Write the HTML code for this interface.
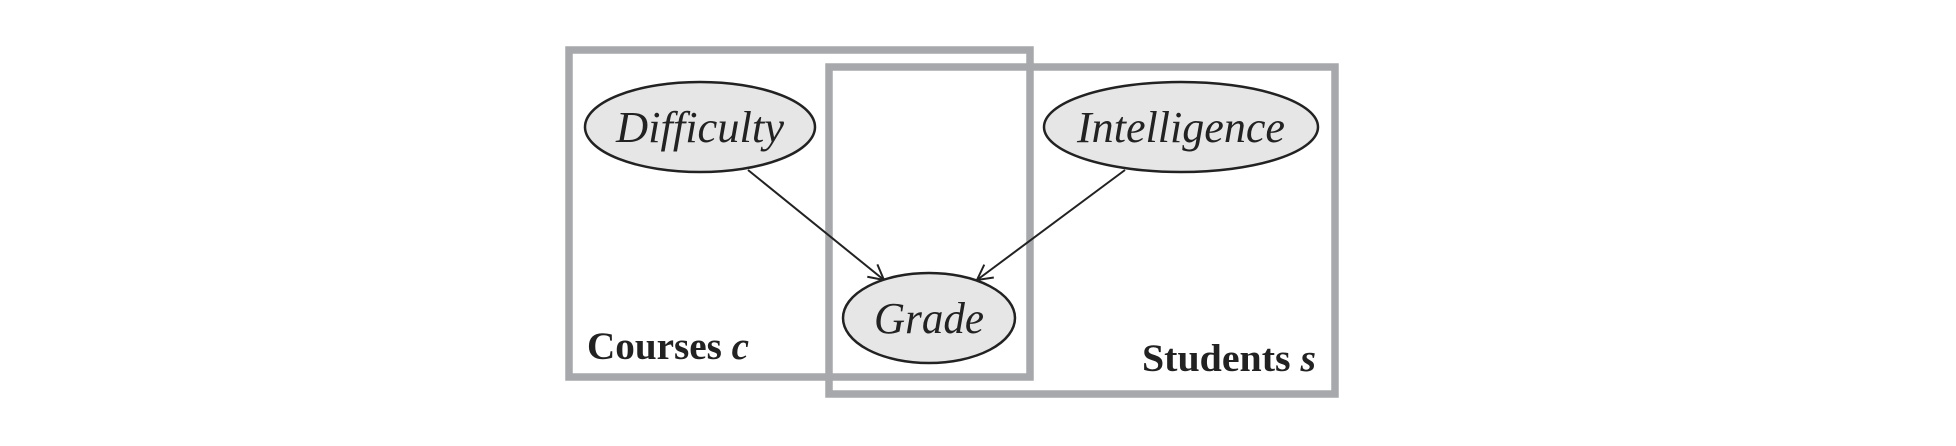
<!DOCTYPE html>
<html><head><style>html,body{margin:0;padding:0;background:#fff;width:1956px;height:446px;overflow:hidden}</style></head>
<body>
<svg width="1956" height="446" xmlns="http://www.w3.org/2000/svg">
<defs><marker id="a" markerWidth="20" markerHeight="20" refX="17" refY="10" orient="auto" markerUnits="userSpaceOnUse"><path d="M2,2 L17,10 L2,18" fill="none" stroke="#222" stroke-width="2"/></marker></defs>
<rect x="569" y="50" width="461" height="327" fill="none" stroke="#a7a8ab" stroke-width="7.5"/>
<rect x="829" y="67" width="506" height="327" fill="none" stroke="#a7a8ab" stroke-width="7.5"/>
<line x1="748" y1="170" x2="884" y2="280" stroke="#222" stroke-width="2" marker-end="url(#a)"/>
<line x1="1125" y1="170" x2="977" y2="280" stroke="#222" stroke-width="2" marker-end="url(#a)"/>
<g fill="#e6e6e6" stroke="#222" stroke-width="2.5">
<ellipse cx="700" cy="127" rx="115" ry="45"/>
<ellipse cx="1181" cy="127" rx="137" ry="45"/>
<ellipse cx="929" cy="318" rx="86" ry="45"/>
</g>
<g font-family="Liberation Serif, serif" font-style="italic" font-size="44" fill="#222" text-anchor="middle">
<text x="700" y="142" textLength="168" lengthAdjust="spacingAndGlyphs">Difficulty</text>
<text x="1181" y="142" textLength="208" lengthAdjust="spacingAndGlyphs">Intelligence</text>
<text x="929" y="333" textLength="110" lengthAdjust="spacingAndGlyphs">Grade</text>
</g>
<g font-family="Liberation Serif, serif" font-weight="bold" font-size="39" fill="#222">
<text x="587" y="359" textLength="162" lengthAdjust="spacingAndGlyphs">Courses <tspan font-style="italic">c</tspan></text>
<text x="1142" y="371" textLength="174" lengthAdjust="spacingAndGlyphs">Students <tspan font-style="italic">s</tspan></text>
</g>
</svg>
</body></html>
